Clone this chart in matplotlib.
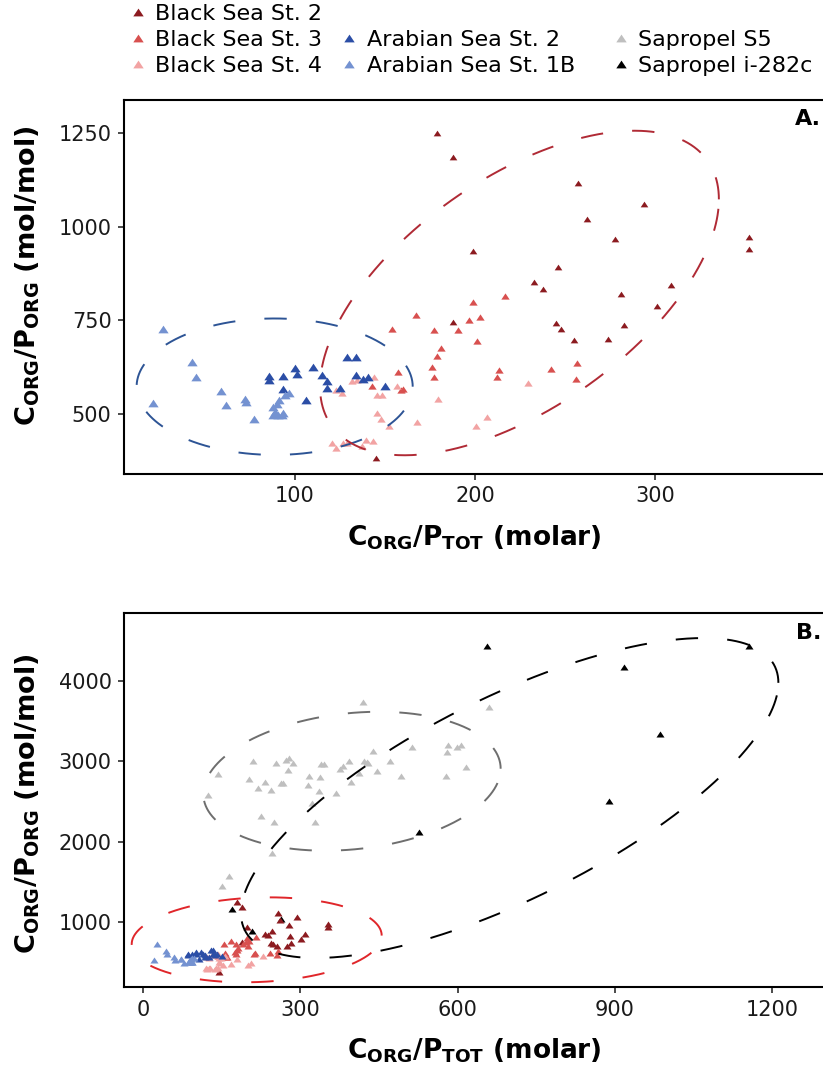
import numpy as np
import matplotlib
matplotlib.use("Agg")
import matplotlib.pyplot as plt
from matplotlib.lines import Line2D

plt.rcParams['font.family'] = ['DejaVu Sans']
plt.rcParams['mathtext.fontset'] = 'dejavusans'

# ---------------- data ----------------
bs2_x = [179, 188, 257, 294, 262, 278, 352, 352, 199, 246, 233, 238, 309, 281, 301, 188, 245, 248, 283, 255, 274, 145]
bs2_y = [1250, 1187, 1116, 1060, 1021, 967, 972, 940, 934, 893, 853, 833, 845, 820, 789, 746, 743, 728, 737, 698, 700, 382]

bs3_x = [167, 153.7, 177, 181, 179, 176, 177, 157, 143, 158.7, 160, 198.7, 216.5, 196.5, 202.6, 190.7, 201, 213.5, 212.4, 242, 256.7, 256]
bs3_y = [764, 726, 724, 677, 656, 626, 598, 611, 575, 564, 566, 798, 814, 750, 760, 725, 695, 618, 600, 620, 635, 593]

bs4_x = [123, 126, 131.5, 134.6, 144, 145.4, 148.5, 145.7, 147.6, 152.4, 156.8, 120.7, 122.8, 126.8, 128.7, 137.4, 139.3, 143.2, 167.6, 179.3, 229.6, 206.5, 200.6]
bs4_y = [564, 557, 588, 591, 600, 551, 551, 502, 486, 469, 575, 424, 410, 423, 423, 415, 431, 429, 479, 539, 582, 493, 468]

as2_x = [85.6, 85.6, 93.3, 93.2, 100.2, 101.3, 110.2, 106, 114.8, 118, 118, 125, 129, 134, 134, 138, 140.7, 149.8]
as2_y = [601, 592, 601, 567, 622, 607, 626, 537, 604, 588, 569, 569, 651, 651, 604, 593, 598, 575]

as1b_x = [26.8, 43, 45, 21, 58.7, 61.5, 72.4, 73, 77.4, 88, 89, 90.7, 92.6, 89.8, 91.3, 94.4, 96.9, 93.5, 87.9]
as1b_y = [726, 640, 600, 529, 562, 524, 540, 533, 487, 519, 506, 497, 497, 528, 537, 551, 557, 502, 497]

s5_x = [419, 142.5, 124.6, 209, 253, 272, 279, 286.7, 276, 202.8, 220, 233, 243.5, 263, 268, 225, 249, 246.7,
        150, 164.6, 329, 322, 336, 314, 316.6, 338, 339.5, 344.6, 368, 375.7, 381, 392, 396.7, 412.6, 422,
        426.6, 430, 439, 445.7, 471, 491.5, 514, 577, 579, 582, 598, 606, 617, 660]
s5_y = [3743, 2843, 2582, 3009, 2984, 3017, 3038, 2976, 2893, 2777, 2665, 2740, 2644, 2727, 2727, 2320, 2241, 1863,
        1448, 1573, 2241, 2486, 2631, 2706, 2822, 2809, 2964, 2968, 2603, 2905, 2947, 3005, 2740, 2852, 3005,
        2996, 2976, 3129, 2880, 3009, 2822, 3183, 2822, 3121, 3204, 3183, 3204, 2934, 3674]

i282_x = [169, 264, 207, 526, 655.5, 917, 1156, 987, 889]
i282_y = [1162, 1037, 892, 2124, 4441, 4179, 4441, 3341, 2511]

series_labels = ["Black Sea St. 2", "Black Sea St. 3", "Black Sea St. 4",
                 "Arabian Sea St. 2", "Arabian Sea St. 1B", "Sapropel S5", "Sapropel i-282c"]
series_colors = ["#8C1B20", "#D8504F", "#F2A3A3", "#2B4EA6", "#7492D1", "#BFBFBF", "#000000"]

# ellipse summaries: centre x, centre y, x half-extent, y half-extent, correlation
ellA_blue = (88.7, 573, 76.7, 182, 0.0)
ellA_red = (224.7, 823, 110.8, 433, 0.577)
ellB_red = (216.9, 778, 238.4, 529, 0.10)
ellB_gray = (398.6, 2753, 283.6, 865, 0.18)
ellB_black = (699.4, 2544, 512.5, 1992, 0.72)

xticksA = [100, 200, 300]
yticksA = [500, 750, 1000, 1250]
xticksB = [0, 300, 600, 900, 1200]
yticksB = [1000, 2000, 3000, 4000]

# ---------------- figure ----------------
W, H = 823, 1079
fig = plt.figure(figsize=(W / 100, H / 100), dpi=100)


def rect(l, t, r, b):
    return [l / W, 1 - b / H, (r - l) / W, (b - t) / H]


axA = fig.add_axes(rect(124, 100, 824, 474))
axB = fig.add_axes(rect(124, 613, 824, 987))

tri = [(-1, -0.75), (1, -0.75), (0, 0.75)]


def ellipse(ax, p, color):
    cx, cy, sx, sy, r = p
    t = np.linspace(0, 2 * np.pi, 600)
    x = cx + sx * np.cos(t)
    y = cy + sy * (r * np.cos(t) + np.sqrt(1 - r * r) * np.sin(t))
    ax.plot(x, y, color=color, lw=1.4, dashes=(11.5, 15), dash_capstyle='butt', zorder=5)


xs = [bs2_x, bs3_x, bs4_x, as2_x, as1b_x, s5_x, i282_x]
ys = [bs2_y, bs3_y, bs4_y, as2_y, as1b_y, s5_y, i282_y]

# Panel A
sizesA = [5.5, 6.0, 6.0, 7.4, 7.4]
for k in range(5):
    axA.plot(xs[k], ys[k], ls='none', marker=tri, ms=sizesA[k], mew=0,
             color=series_colors[k], zorder=3)
ellipse(axA, ellA_blue, "#2D5495")
ellipse(axA, ellA_red, "#B02A35")
axA.set_xlim(5, 393.9)
axA.set_ylim(340, 1338)
axA.set_xticks(xticksA)
axA.set_yticks(yticksA)

# Panel B
order = [5, 6, 0, 1, 2, 3, 4]
for k in order:
    axB.plot(xs[k], ys[k], ls='none', marker=tri, ms=5.8, mew=0,
             color=series_colors[k], zorder=3)
ellipse(axB, ellB_red, "#E0262A")
ellipse(axB, ellB_gray, "#6E6E6E")
ellipse(axB, ellB_black, "#000000")
axB.set_xlim(-36.2, 1298.9)
axB.set_ylim(190.5, 4848)
axB.set_xticks(xticksB)
axB.set_yticks(yticksB)

for ax in (axA, axB):
    for s in ax.spines.values():
        s.set_linewidth(1.5)
    ax.spines['right'].set_visible(False)
    ax.tick_params(direction='out', length=4, width=1.1, labelsize=15, pad=5,
                   colors='#1a1a1a')

axA.text(0.9957, 0.949, 'A.', transform=axA.transAxes, ha='right', va='center',
         fontsize=16, fontweight='bold')
axB.text(0.9957, 0.9465, 'B.', transform=axB.transAxes, ha='right', va='center',
         fontsize=16, fontweight='bold')

ylab = r'$\mathbf{C_{ORG}/P_{ORG}}$ (mol/mol)'
xlab = r'$\mathbf{C_{ORG}/P_{TOT}}$ (molar)'
fig.text(28 / W, 1 - 276 / H, ylab, rotation=90, ha='center', va='center',
         fontsize=19.5, fontweight='bold')
fig.text(28 / W, 1 - 804 / H, ylab, rotation=90, ha='center', va='center',
         fontsize=19.5, fontweight='bold')
fig.text(474 / W, 1 - 538 / H, xlab, ha='center', va='center', fontsize=19, fontweight='bold')
fig.text(474 / W, 1 - 1051 / H, xlab, ha='center', va='center', fontsize=19, fontweight='bold')


# Legend (two blocks: Black/Arabian Sea columns and Sapropel column)
def h(c):
    return Line2D([], [], ls='none', marker=tri, ms=7.5, mew=0, color=c)


blank = Line2D([], [], ls='none', marker=None)
leg_kw = dict(loc='upper left', frameon=False, fontsize=16, handlelength=0.8,
              handletextpad=0.38, columnspacing=0.83, labelspacing=0.26,
              borderpad=0, borderaxespad=0)
handles1 = [h(series_colors[0]), h(series_colors[1]), h(series_colors[2]),
            blank, h(series_colors[3]), h(series_colors[4])]
labels1 = [series_labels[0], series_labels[1], series_labels[2],
           ' ', series_labels[3], series_labels[4]]
leg1 = fig.legend(handles1, labels1, bbox_to_anchor=(128.8 / W, 1 - 4 / H), ncol=2, **leg_kw)
handles2 = [blank, h(series_colors[5]), h(series_colors[6])]
labels2 = [' ', series_labels[5], series_labels[6]]
leg2 = fig.legend(handles2, labels2, bbox_to_anchor=(612 / W, 1 - 4 / H), ncol=1, **leg_kw)

fig.savefig('out.png', dpi=100)
